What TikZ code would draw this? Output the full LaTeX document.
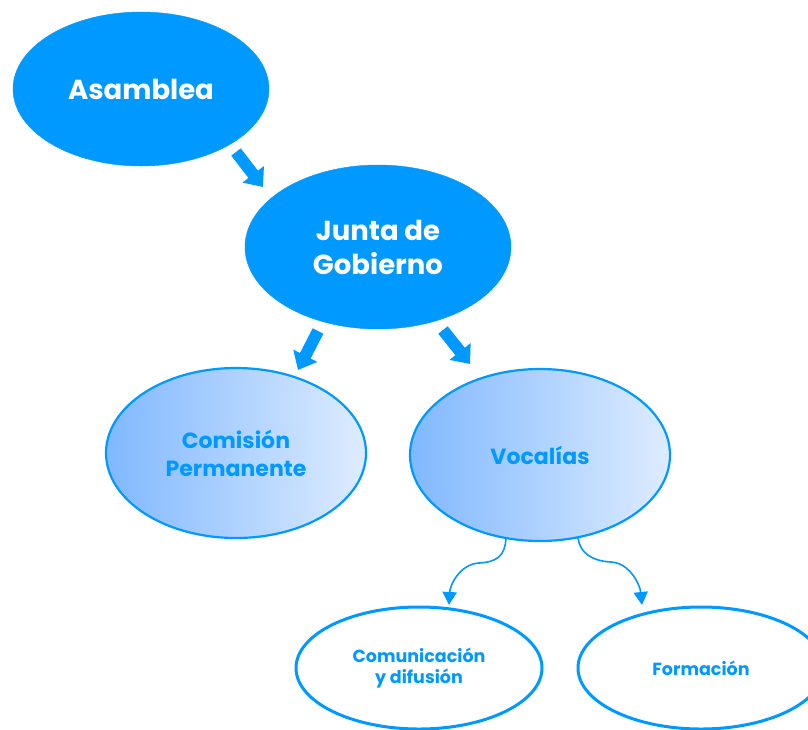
\documentclass[tikz,border=0pt]{standalone}
\usepackage{fontspec}
\setmainfont{Poppins}
\usetikzlibrary{shapes.geometric,arrows.meta}
\definecolor{mblue}{RGB}{0,153,255}
\definecolor{gleft}{RGB}{128,184,255}
\definecolor{gright}{RGB}{222,236,255}
\tikzset{
  solidell/.style={ellipse, fill=mblue, draw=mblue, inner sep=0pt, text=white, align=center, font=\bfseries\fontsize{27.5}{34}\selectfont},
  gradell/.style={ellipse, left color=gleft, right color=gright, draw=mblue, line width=2.2pt, inner sep=0pt, text=mblue, align=center, font=\bfseries\fontsize{22}{28}\selectfont},
  whiteell/.style={ellipse, fill=white, draw=mblue, line width=3pt, inner sep=0pt, text=mblue, align=center, font=\bfseries\fontsize{17.5}{21}\selectfont},
  blockarrow/.style={draw=mblue, line width=12pt, -{Triangle[length=16pt, width=26pt]}, shorten >=0pt},
  thinarrow/.style={draw=mblue, line width=1.6pt, -{Triangle[length=13pt, width=14pt]}},
}
\begin{document}
\begin{tikzpicture}[x=1pt, y=-1pt]
\useasboundingbox (0,0) rectangle (808,729);
\node[solidell, minimum width=256pt, minimum height=154pt] (asam) at (141,89) {Asamblea};
\node[solidell, minimum width=266pt, minimum height=164pt] (junta) at (378,247) {Junta de\\Gobierno};
\node[gradell, minimum width=260pt, minimum height=170pt] (comi) at (236,453) {Comisión\\Permanente};
\node[gradell, minimum width=260pt, minimum height=172pt] (voca) at (540,455) {Vocalías};
\node[whiteell, minimum width=246pt, minimum height=122pt] (comu) at (419,668) {Comunicación\\y difusión};
\node[whiteell, minimum width=246pt, minimum height=122pt] (form) at (701,668) {Formación};
% block arrows
\coordinate (a1s) at (236,152);
\coordinate (a1e) at (263,187);
\coordinate (a2s) at (318,331);
\coordinate (a2e) at (298,370);
\coordinate (a3s) at (443,330);
\coordinate (a3e) at (470,364);
\draw[blockarrow] (a1s) -- (a1e);
\draw[blockarrow] (a2s) -- (a2e);
\draw[blockarrow] (a3s) -- (a3e);
% curved arrows
\coordinate (c1s) at (506,538);
\coordinate (c1m) at (479,563);
\coordinate (c1e) at (449,605);
\coordinate (c2s) at (578,538);
\coordinate (c2m) at (611,562);
\coordinate (c2e) at (642,605);
\draw[thinarrow] (c1s) .. controls (505,556) and (497,562) .. (c1m) .. controls (460,564) and (450,585) .. (c1e);
\draw[thinarrow] (c2s) .. controls (580,553) and (592,561) .. (c2m) .. controls (630,563) and (640,585) .. (c2e);
\end{tikzpicture}
\end{document}
